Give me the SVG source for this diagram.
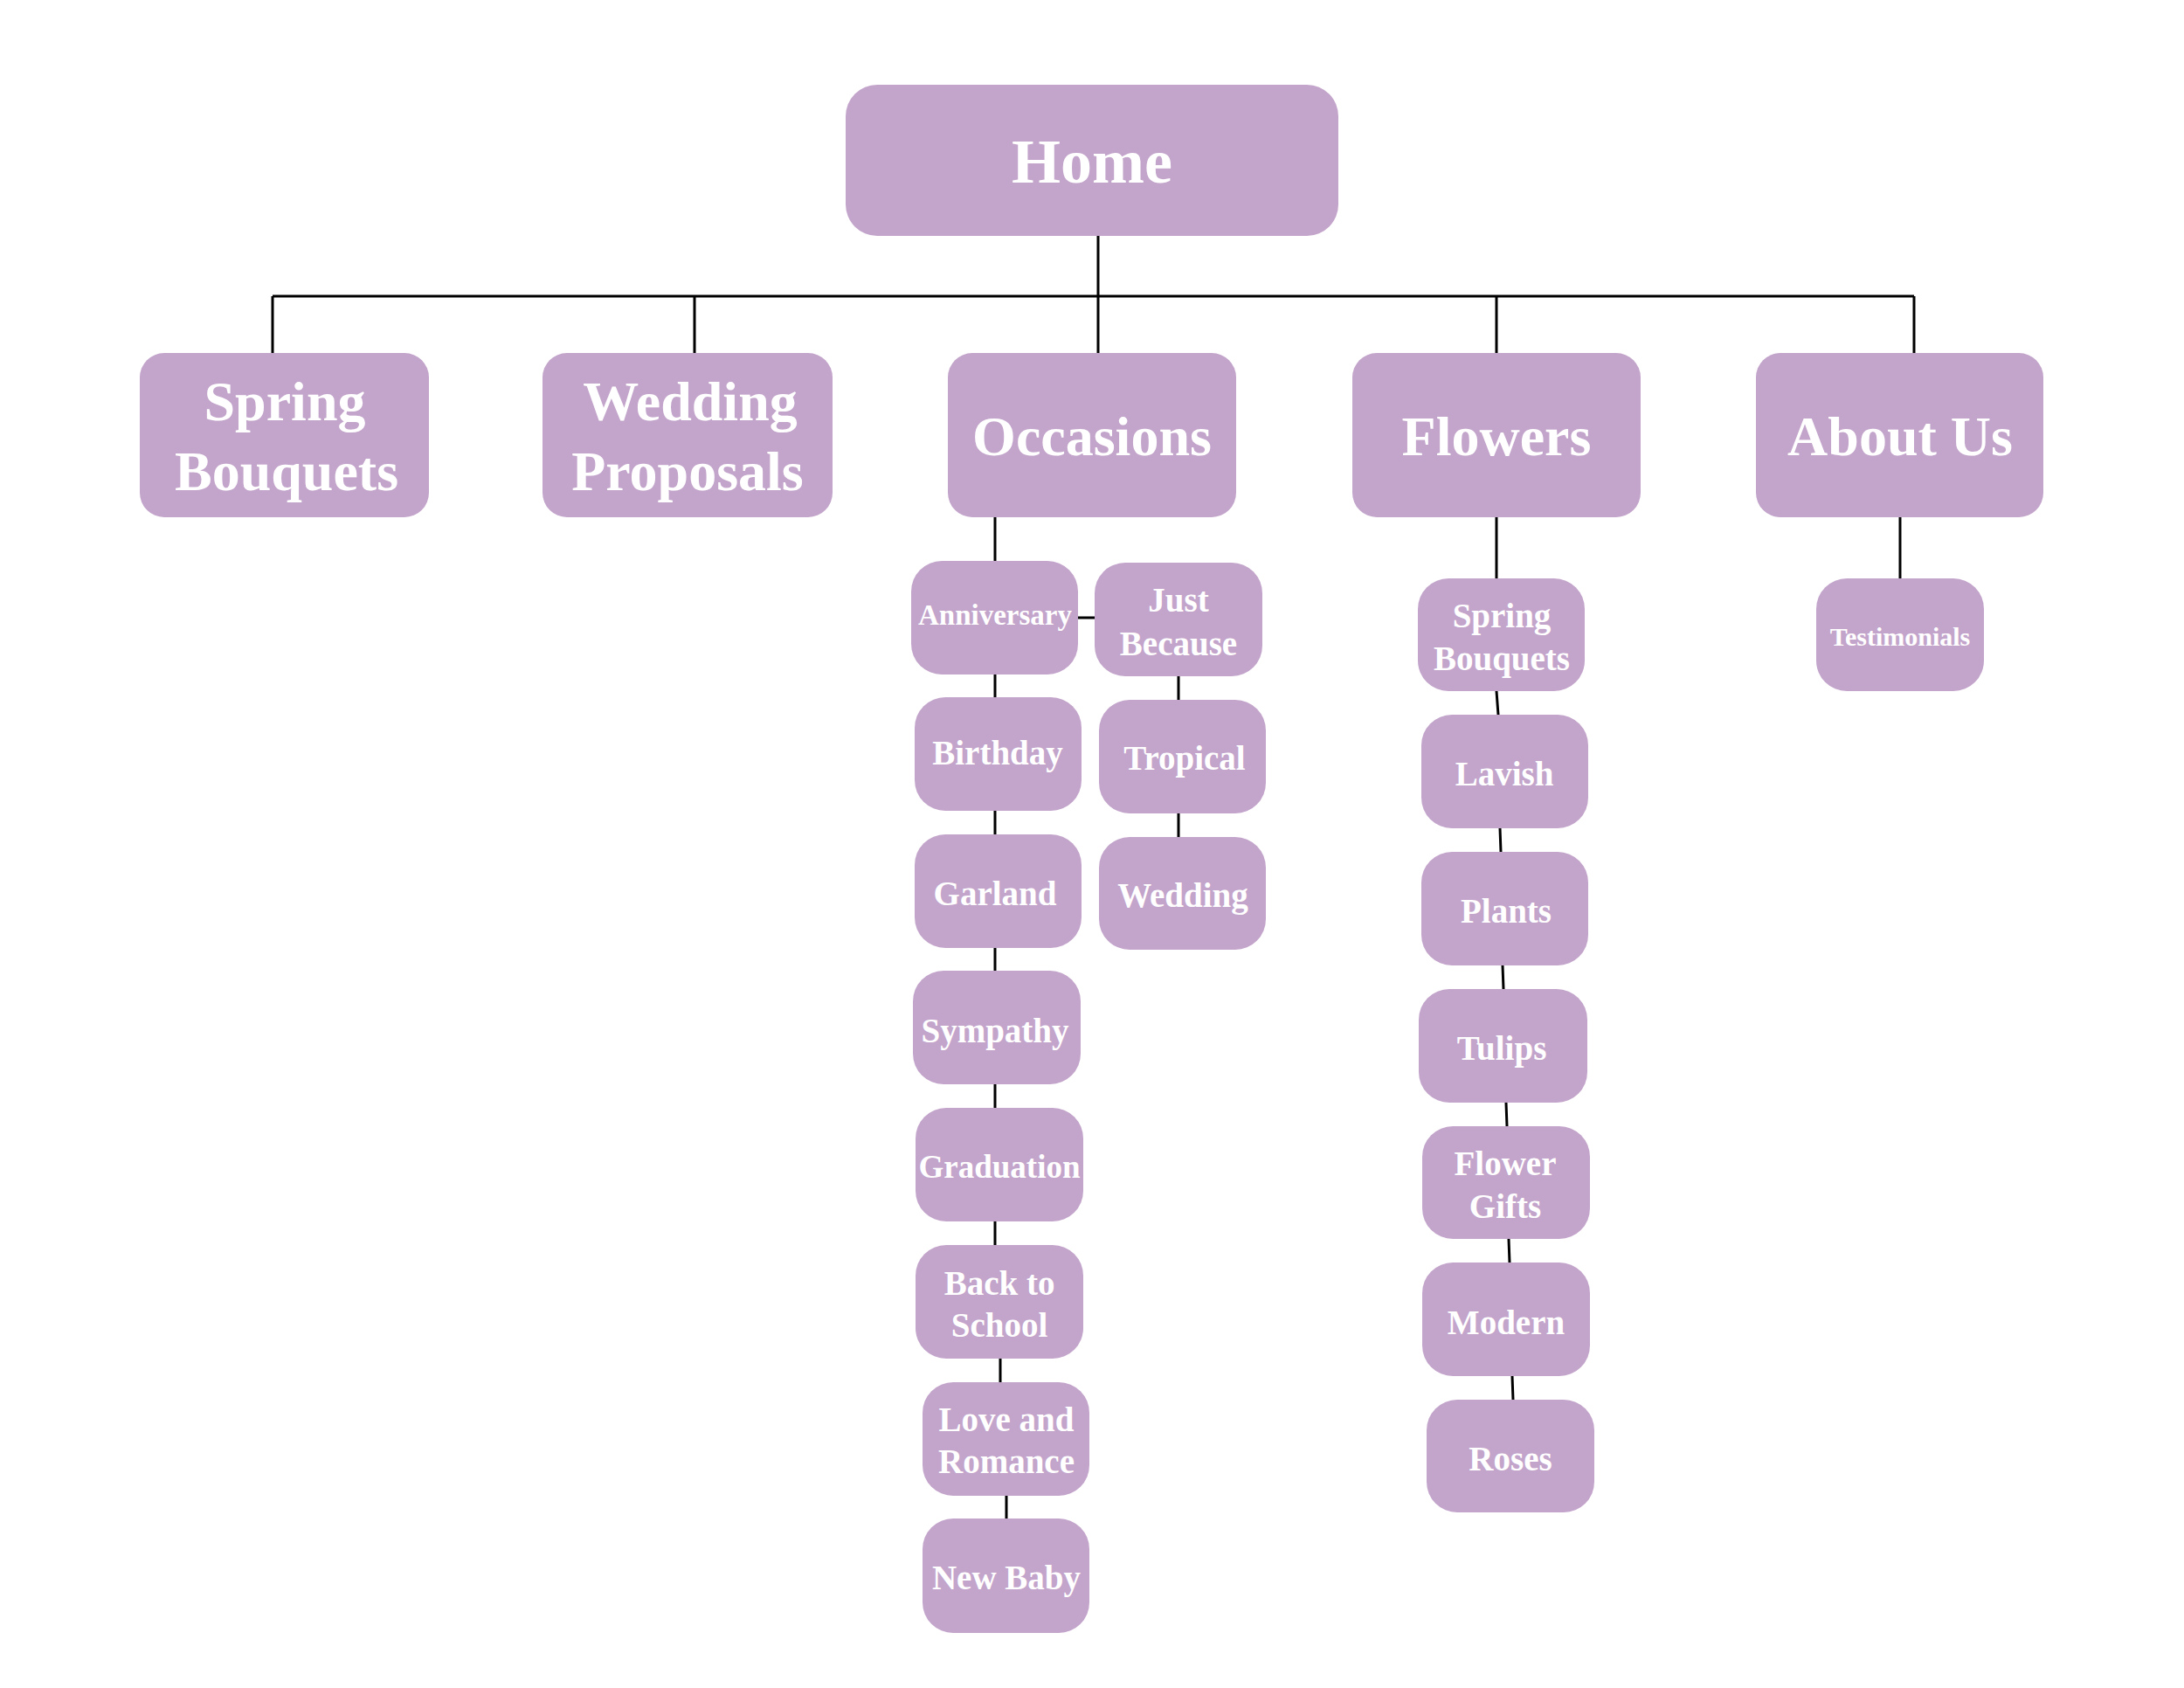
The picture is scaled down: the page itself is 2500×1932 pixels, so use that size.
<svg xmlns="http://www.w3.org/2000/svg" width="2500" height="1932" viewBox="0 0 2500 1932">
<style>
.n{fill:#C3A4CB}
.t{fill:#FFFFFF;font-family:"Liberation Serif","DejaVu Serif",serif;font-weight:bold;text-anchor:middle}
.h{font-size:72px}
.l2{font-size:64px}
.s{font-size:39px}
.c{stroke:#000;stroke-width:3;fill:none}
</style>
<rect width="2500" height="1932" fill="#FFFFFF"/>
<g id="connectors" class="c">
<path d="M1257 270V404M312 339H2191M312 339V404M795 339V404M1713 339V404M2191 339V404"/>
<path d="M1139 592V642M1139 772V798M1139 928V955M1139 1085V1111M1139 1241V1268M1139 1398V1425M1145 1555V1582M1152 1711V1738"/>
<path d="M1234 707H1253M1349 774V801M1349 931V958"/>
<path d="M1713 592V662M1713 791L1715 818M1717 948L1718 975M1720 1105L1721 1132M1724 1262L1725 1289M1727 1418L1728 1445M1731 1575L1732 1602"/>
<path d="M2175 592V662"/>
</g>
<g id="home"><rect class="n" x="968" y="97" width="564" height="173" rx="36"/><text class="t h" x="1250" y="209">Home</text></g>
<g id="spring-bouquets"><rect class="n" x="160" y="404" width="331" height="188" rx="28"/><text class="t l2" x="326" y="481">Spring</text><text class="t l2" x="328" y="561">Bouquets</text></g>
<g id="wedding-proposals"><rect class="n" x="621" y="404" width="332" height="188" rx="28"/><text class="t l2" x="790" y="481">Wedding</text><text class="t l2" x="787" y="561">Proposals</text></g>
<g id="occasions"><rect class="n" x="1085" y="404" width="330" height="188" rx="28"/><text class="t l2" x="1250" y="521">Occasions</text></g>
<g id="flowers"><rect class="n" x="1548" y="404" width="330" height="188" rx="28"/><text class="t l2" x="1713" y="521">Flowers</text></g>
<g id="about-us"><rect class="n" x="2010" y="404" width="329" height="188" rx="28"/><text class="t l2" x="2175" y="521">About Us</text></g>

<g id="anniversary"><rect class="n" x="1043" y="642" width="191" height="130" rx="35"/><text class="t" style="font-size:33px" x="1139" y="715">Anniversary</text></g>
<g id="birthday"><rect class="n" x="1047" y="798" width="191" height="130" rx="35"/><text class="t s" x="1142" y="875">Birthday</text></g>
<g id="garland"><rect class="n" x="1047" y="955" width="191" height="130" rx="35"/><text class="t s" x="1139" y="1036">Garland</text></g>
<g id="sympathy"><rect class="n" x="1045" y="1111" width="192" height="130" rx="35"/><text class="t s" x="1139" y="1193">Sympathy</text></g>
<g id="graduation"><rect class="n" x="1048" y="1268" width="192" height="130" rx="35"/><text class="t" style="font-size:37px" x="1144" y="1348">Graduation</text></g>
<g id="back-to-school"><rect class="n" x="1048" y="1425" width="192" height="130" rx="35"/><text class="t s" x="1144" y="1482">Back to</text><text class="t s" x="1144" y="1530">School</text></g>
<g id="love-and-romance"><rect class="n" x="1056" y="1582" width="191" height="130" rx="35"/><text class="t s" x="1152" y="1638">Love and</text><text class="t s" x="1152" y="1686">Romance</text></g>
<g id="new-baby"><rect class="n" x="1056" y="1738" width="191" height="131" rx="35"/><text class="t s" x="1152" y="1819">New Baby</text></g>
<g id="just-because"><rect class="n" x="1253" y="644" width="192" height="130" rx="35"/><text class="t s" x="1349" y="700">Just</text><text class="t s" x="1349" y="750">Because</text></g>
<g id="tropical"><rect class="n" x="1258" y="801" width="191" height="130" rx="35"/><text class="t s" x="1356" y="881">Tropical</text></g>
<g id="wedding"><rect class="n" x="1258" y="958" width="191" height="129" rx="35"/><text class="t s" x="1354" y="1038">Wedding</text></g>

<g id="spring-bouquets-2"><rect class="n" x="1623" y="662" width="191" height="129" rx="35"/><text class="t s" x="1719" y="718">Spring</text><text class="t s" x="1719" y="767">Bouquets</text></g>
<g id="lavish"><rect class="n" x="1627" y="818" width="191" height="130" rx="35"/><text class="t s" x="1722" y="899">Lavish</text></g>
<g id="plants"><rect class="n" x="1627" y="975" width="191" height="130" rx="35"/><text class="t s" x="1724" y="1056">Plants</text></g>
<g id="tulips"><rect class="n" x="1624" y="1132" width="193" height="130" rx="35"/><text class="t s" x="1719" y="1213">Tulips</text></g>
<g id="flower-gifts"><rect class="n" x="1628" y="1289" width="192" height="129" rx="35"/><text class="t s" x="1723" y="1345">Flower</text><text class="t s" x="1723" y="1394">Gifts</text></g>
<g id="modern"><rect class="n" x="1628" y="1445" width="192" height="130" rx="35"/><text class="t s" x="1724" y="1527">Modern</text></g>
<g id="roses"><rect class="n" x="1633" y="1602" width="192" height="129" rx="35"/><text class="t s" x="1729" y="1683">Roses</text></g>
<g id="testimonials"><rect class="n" x="2079" y="662" width="192" height="129" rx="35"/><text class="t" style="font-size:30px" x="2175" y="739">Testimonials</text></g>
</svg>
